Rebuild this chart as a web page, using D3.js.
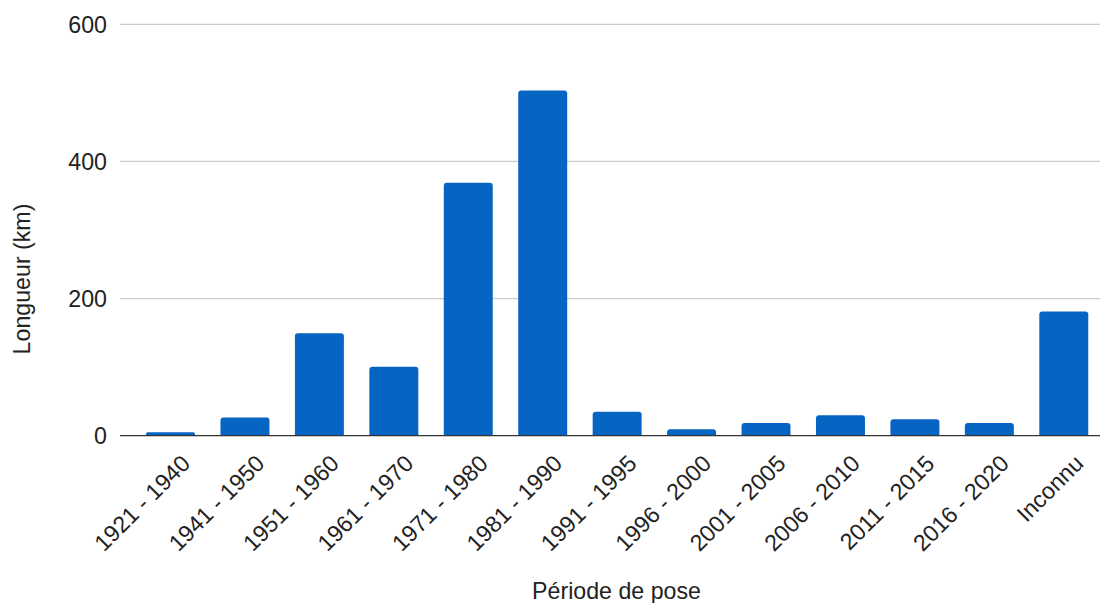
<!DOCTYPE html>
<html>
<head>
<meta charset="utf-8">
<script src="https://cdn.jsdelivr.net/npm/d3@7"></script>
<style>
  html, body { margin: 0; padding: 0; background: #fff; }
  svg { display: block; font-family: "Liberation Sans", Arial, sans-serif; }
</style>
</head>
<body>
<svg id="chart" width="1102" height="603"></svg>
<script>
const categories = ["1921 - 1940", "1941 - 1950", "1951 - 1960", "1961 - 1970", "1971 - 1980", "1981 - 1990", "1991 - 1995", "1996 - 2000", "2001 - 2005", "2006 - 2010", "2011 - 2015", "2016 - 2020", "Inconnu"];
const values = [5, 26.5, 149.5, 100.5, 369, 503.5, 35, 9.3, 18.5, 30, 24, 18.5, 181];
const yTicks = [0, 200, 400, 600];
const xTitle = "Période de pose";
const yTitle = "Longueur (km)";

const svg = d3.select("#chart");
const plotLeft = 120, plotRight = 1100;
const fs = 23.2;
const y = d3.scaleLinear().domain([0, 600]).range([435.7, 24.3]);
const x = d3.scaleBand().domain(categories).range([133.3, 1101]).paddingInner(0.342).paddingOuter(0.171);

// gridlines
svg.append("g").selectAll("line").data(yTicks.filter(d => d !== 0)).join("line")
  .attr("x1", plotLeft).attr("x2", plotRight)
  .attr("y1", d => y(d)).attr("y2", d => y(d))
  .attr("stroke", "#cccccc").attr("stroke-width", 1.3);

// y tick labels
svg.append("g").selectAll("text").data(yTicks).join("text")
  .attr("x", 107).attr("y", d => y(d))
  .attr("dy", "0.36em")
  .attr("text-anchor", "end")
  .attr("font-size", fs).attr("fill", "#222")
  .text(d => d);

// bars with rounded top corners
const r = 3;
svg.append("g").selectAll("path").data(categories).join("path")
  .attr("fill", "#0665c2")
  .attr("d", (c, i) => {
    const x0 = x(c), w = x.bandwidth(), top = y(values[i]), bot = y(0);
    const rr = Math.min(r, (bot - top) / 2);
    return `M${x0},${bot} L${x0},${top + rr} Q${x0},${top} ${x0 + rr},${top} L${x0 + w - rr},${top} Q${x0 + w},${top} ${x0 + w},${top + rr} L${x0 + w},${bot} Z`;
  });

// baseline
svg.append("line")
  .attr("x1", plotLeft).attr("x2", plotRight)
  .attr("y1", y(0)).attr("y2", y(0))
  .attr("stroke", "#333").attr("stroke-width", 1.3);

// x tick labels
svg.append("g").selectAll("text").data(categories).join("text")
  .attr("transform", c => `translate(${x(c) + x.bandwidth() / 2 + 21},${465}) rotate(-45)`)
  .attr("text-anchor", "end")
  .attr("font-size", fs).attr("fill", "#222")
  .text(c => c);

// axis titles
svg.append("text")
  .attr("x", 616.5).attr("y", 599)
  .attr("text-anchor", "middle")
  .attr("font-size", fs).attr("fill", "#222")
  .text(xTitle);

svg.append("text")
  .attr("transform", "translate(30,279) rotate(-90)")
  .attr("text-anchor", "middle")
  .attr("font-size", fs).attr("fill", "#222")
  .text(yTitle);
</script>
</body>
</html>
